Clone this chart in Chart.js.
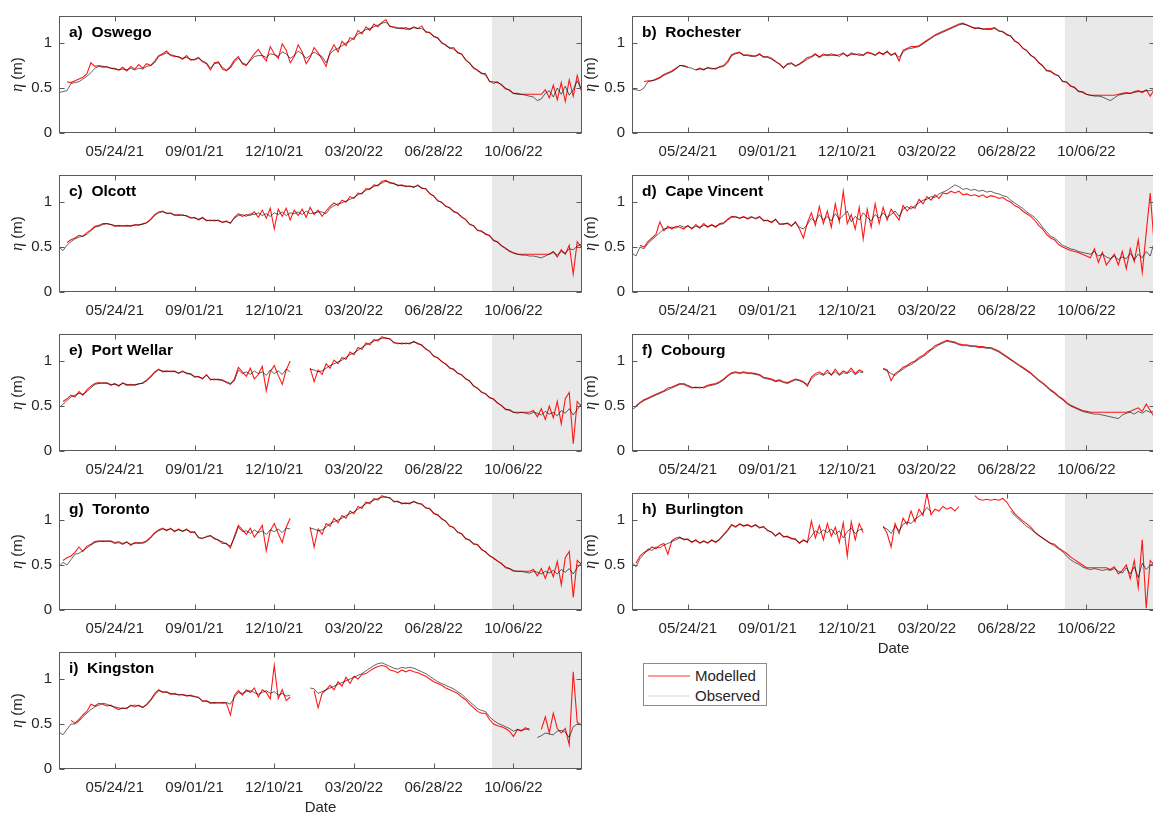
<!DOCTYPE html>
<html>
<head>
<meta charset="utf-8">
<script src="https://cdn.jsdelivr.net/npm/chart.js@4.4.0/dist/chart.umd.min.js"></script>
<style>
  html, body { margin: 0; padding: 0; width: 1153px; height: 818px; overflow: hidden; background: #fff; }
  canvas.panel { position: absolute; }
  #legend { position: absolute; left: 643px; top: 663px; width: 124px; height: 43px;
            border: 1px solid #8c8c8c; background: #fff; box-sizing: border-box;
            font-family: 'Liberation Sans', Arial, sans-serif; font-size: 15px; color: #262626; }
  #legend .row { position: absolute; left: 0; height: 18px; line-height: 18px; }
  #legend .swatch { position: absolute; left: 4px; top: 8px; width: 42px; height: 0; border-top: 2px solid; }
  #legend .txt { position: absolute; left: 51px; top: 0; white-space: nowrap; }
</style>
</head>
<body>
<div id="legend">
  <div class="row" style="top:3px"><span class="swatch" style="border-color:rgba(255,0,0,0.4)"></span><span class="txt">Modelled</span></div>
  <div class="row" style="top:23px"><span class="swatch" style="border-color:rgba(0,0,0,0.08)"></span><span class="txt">Observed</span></div>
</div>
<script>
// Water level (m) every 5 days from the start date, one pair of series per gauge.
const startDate = '2021-03-15';
const sampleStep = 5;
const axisEnd = '2022-12-31';
const forecastStart = '2022-09-09';
const tickLabels = ['05/24/21', '09/01/21', '12/10/21', '03/20/22', '06/28/22', '10/06/22'];
const yTicks = [0, 0.5, 1];
const stationTitles = ['a)  Oswego', 'b)  Rochester', 'c)  Olcott', 'd)  Cape Vincent', 'e)  Port Wellar',
                       'f)  Cobourg', 'g)  Toronto', 'h)  Burlington', 'i)  Kingston'];

const oswegoObserved = [
  0.45,0.46,0.47,0.55,0.56,0.57,0.60,0.63,0.67,0.72,
  0.74,0.73,0.74,0.72,0.72,0.70,0.71,0.70,0.72,0.70,
  0.72,0.71,0.74,0.75,0.78,0.85,0.87,0.89,0.87,0.86,
  0.84,0.83,0.84,0.82,0.81,0.83,0.80,0.78,0.72,0.77,
  0.78,0.73,0.70,0.72,0.79,0.83,0.78,0.76,0.80,0.85,
  0.86,0.86,0.84,0.88,0.87,0.85,0.90,0.88,0.83,0.86,
  0.91,0.88,0.83,0.86,0.90,0.87,0.85,0.78,0.88,0.92,
  0.94,0.97,1.00,1.02,1.06,1.10,1.12,1.15,1.16,1.18,
  1.20,1.22,1.23,1.19,1.17,1.16,1.17,1.15,1.16,1.17,
  1.16,1.16,1.13,1.11,1.08,1.05,1.01,0.97,0.95,0.93,
  0.90,0.87,0.82,0.77,0.73,0.69,0.67,0.64,0.58,0.55,
  0.57,0.53,0.50,0.47,0.44,0.43,0.43,0.42,0.41,0.40,
  0.36,0.38,0.44,0.47,0.40,0.50,0.43,0.52,0.42,0.48,
  0.58,0.49];
const oswegoModelled = [
  null,null,0.57,0.56,0.58,0.60,0.62,0.66,0.78,0.74,
  0.75,0.74,0.73,0.72,0.71,0.70,0.73,0.69,0.74,0.71,
  0.76,0.72,0.77,0.75,0.80,0.86,0.88,0.91,0.86,0.85,
  0.85,0.82,0.86,0.81,0.82,0.84,0.79,0.77,0.70,0.78,
  0.79,0.71,0.69,0.74,0.81,0.85,0.77,0.75,0.82,0.88,
  0.93,0.86,0.80,0.96,0.88,0.83,0.99,0.92,0.78,0.85,
  0.98,0.90,0.77,0.84,0.95,0.89,0.82,0.74,0.90,0.98,
  0.90,1.02,0.97,1.06,1.04,1.14,1.10,1.18,1.14,1.21,
  1.18,1.23,1.26,1.18,1.18,1.17,1.16,1.17,1.15,1.18,
  1.16,1.19,1.12,1.12,1.07,1.06,1.00,0.98,0.94,0.95,
  0.89,0.88,0.81,0.78,0.72,0.70,0.66,0.66,0.57,0.57,
  0.56,0.54,0.49,0.48,0.44,0.44,0.43,0.43,0.43,0.43,
  0.43,0.43,0.48,0.39,0.53,0.37,0.56,0.35,0.59,0.41,
  0.64,0.47];

const rochesterObserved = [
  0.49,0.48,0.47,0.50,0.57,0.58,0.59,0.61,0.64,0.66,
  0.68,0.71,0.75,0.74,0.73,0.72,0.70,0.71,0.71,0.72,
  0.71,0.72,0.73,0.74,0.78,0.86,0.88,0.89,0.87,0.86,
  0.85,0.86,0.87,0.85,0.84,0.82,0.80,0.76,0.73,0.76,
  0.77,0.75,0.76,0.79,0.82,0.84,0.87,0.85,0.86,0.87,
  0.86,0.87,0.85,0.88,0.86,0.87,0.88,0.86,0.87,0.89,
  0.88,0.87,0.89,0.88,0.90,0.87,0.88,0.84,0.90,0.93,
  0.94,0.95,0.96,0.99,1.02,1.05,1.08,1.10,1.12,1.14,
  1.16,1.18,1.20,1.21,1.20,1.18,1.17,1.16,1.16,1.15,
  1.15,1.16,1.14,1.12,1.10,1.07,1.03,0.99,0.95,0.91,
  0.87,0.83,0.79,0.74,0.70,0.68,0.66,0.63,0.58,0.56,
  0.53,0.50,0.47,0.45,0.43,0.42,0.41,0.41,0.40,0.38,
  0.36,0.39,0.42,0.43,0.44,0.44,0.45,0.46,0.46,0.47,
  0.47,0.48];
const rochesterModelled = [
  null,null,null,0.57,0.58,0.58,0.60,0.62,0.65,0.67,
  0.69,0.72,0.75,0.75,0.73,null,0.70,0.72,0.70,0.73,
  0.72,0.71,0.74,0.75,0.80,0.87,0.89,0.90,0.86,0.87,
  0.86,0.85,0.88,0.84,0.85,0.83,0.79,0.77,0.72,0.77,
  0.78,0.74,0.77,0.80,0.84,0.85,0.88,0.84,0.88,0.86,
  0.88,0.86,0.87,0.89,0.85,0.89,0.87,0.88,0.86,0.90,
  0.89,0.86,0.90,0.87,0.91,0.86,0.89,0.80,0.92,0.94,
  0.96,0.96,0.97,1.00,1.03,1.06,1.09,1.11,1.13,1.15,
  1.17,1.19,1.21,1.22,1.20,1.18,1.16,1.17,1.15,1.16,
  1.16,1.17,1.13,1.13,1.09,1.08,1.02,1.00,0.94,0.92,
  0.86,0.84,0.78,0.75,0.69,0.69,0.65,0.64,0.57,0.57,
  0.52,0.51,0.46,0.46,0.43,0.42,0.42,0.42,0.42,0.42,
  0.42,0.42,0.43,0.44,0.45,0.44,0.46,0.47,0.45,0.48,
  0.41,0.48];

const olcottObserved = [
  0.50,0.46,0.52,0.56,0.59,0.61,0.62,0.64,0.68,0.72,
  0.73,0.75,0.76,0.75,0.74,0.73,0.74,0.73,0.74,0.74,
  0.75,0.75,0.77,0.80,0.85,0.88,0.89,0.88,0.87,0.86,
  0.85,0.86,0.84,0.83,0.82,0.81,0.82,0.80,0.79,0.80,
  0.79,0.78,0.78,0.77,0.82,0.85,0.86,0.84,0.87,0.86,
  0.88,0.85,0.87,0.84,0.88,0.86,0.89,0.85,0.88,0.87,
  0.89,0.86,0.90,0.87,0.88,0.89,0.89,0.87,0.93,0.96,
  0.98,0.99,1.01,1.03,1.05,1.08,1.10,1.13,1.15,1.17,
  1.19,1.21,1.23,1.22,1.20,1.19,1.18,1.18,1.17,1.17,
  1.18,1.16,1.14,1.10,1.06,1.02,0.99,0.96,0.93,0.90,
  0.87,0.84,0.80,0.76,0.73,0.69,0.67,0.65,0.62,0.58,
  0.55,0.52,0.48,0.46,0.43,0.42,0.41,0.41,0.40,0.40,
  0.39,0.38,0.40,0.42,0.44,0.41,0.45,0.43,0.48,0.47,
  0.51,0.53];
const olcottModelled = [
  null,null,0.55,0.58,0.60,0.63,0.62,0.66,0.69,0.73,
  0.74,0.76,0.76,0.75,0.73,0.74,0.73,0.74,0.73,0.75,
  0.74,0.76,0.77,0.81,0.86,0.89,0.90,0.87,0.88,0.85,
  0.86,0.85,0.85,0.82,0.83,0.80,0.83,0.79,0.80,0.79,
  0.80,0.77,0.79,0.76,0.83,0.87,0.84,0.86,0.85,0.89,
  0.83,0.91,0.82,0.93,0.70,0.92,0.84,0.93,0.80,0.91,
  0.85,0.92,0.83,0.94,0.86,0.91,0.84,0.90,0.95,0.99,
  0.96,1.02,1.00,1.06,1.04,1.10,1.09,1.15,1.14,1.19,
  1.18,1.23,1.24,1.21,1.21,1.18,1.19,1.17,1.18,1.16,
  1.19,1.15,1.15,1.09,1.07,1.01,1.00,0.95,0.94,0.89,
  0.88,0.83,0.81,0.75,0.74,0.68,0.68,0.64,0.63,0.57,
  0.56,0.51,0.49,0.45,0.44,0.42,0.42,0.42,0.42,0.42,
  0.42,0.42,0.42,0.42,0.45,0.39,0.47,0.42,0.52,0.20,
  0.56,0.50];

const capeVincentObserved = [
  0.43,0.40,0.50,0.48,0.54,0.58,0.62,0.66,0.70,0.71,
  0.72,0.71,0.74,0.72,0.73,0.71,0.73,0.72,0.74,0.73,
  0.74,0.73,0.75,0.76,0.80,0.83,0.84,0.82,0.83,0.82,
  0.84,0.81,0.83,0.80,0.79,0.78,0.80,0.76,0.75,0.77,
  0.74,0.77,0.72,0.70,0.75,0.82,0.78,0.86,0.80,0.84,
  0.79,0.87,0.81,0.85,0.90,0.78,0.84,0.80,0.88,0.83,
  0.79,0.86,0.82,0.88,0.83,0.86,0.90,0.84,0.92,0.95,
  0.92,0.96,0.99,1.02,1.03,1.06,1.05,1.09,1.11,1.13,
  1.16,1.19,1.17,1.14,1.15,1.13,1.14,1.12,1.13,1.11,
  1.12,1.10,1.09,1.07,1.06,1.02,0.99,0.96,0.93,0.89,
  0.86,0.83,0.78,0.72,0.67,0.62,0.60,0.56,0.52,0.50,
  0.48,0.47,0.45,0.44,0.43,0.42,0.45,0.40,0.42,0.39,
  0.37,0.40,0.36,0.39,0.37,0.43,0.36,0.42,0.38,0.45,
  0.40,0.55];
const capeVincentModelled = [
  null,null,0.52,0.50,0.56,0.60,0.64,0.78,0.68,0.73,
  0.70,0.73,0.72,0.70,0.74,0.70,0.75,0.71,0.76,0.72,
  0.75,0.72,0.76,0.77,0.81,0.84,0.83,0.82,0.84,0.81,
  0.83,0.82,0.84,0.79,0.80,0.77,0.81,0.75,0.76,0.76,
  0.73,0.78,0.70,0.60,0.77,0.88,0.74,0.95,0.76,0.90,
  0.72,0.98,0.78,1.12,0.76,0.86,0.70,0.94,0.59,0.92,
  0.72,0.98,0.76,0.94,0.80,0.92,0.86,0.80,0.96,0.90,
  0.95,0.93,1.03,0.98,1.06,1.02,1.08,1.04,1.10,1.09,
  1.12,1.10,1.12,1.08,1.09,1.07,1.08,1.06,1.08,1.05,
  1.07,1.06,1.04,1.05,1.02,1.00,0.96,0.94,0.90,0.87,
  0.84,0.80,0.74,0.70,0.64,0.60,0.58,0.53,0.50,0.48,
  0.46,0.45,0.44,0.42,0.40,0.38,0.48,0.33,0.44,0.30,
  0.36,0.42,0.30,0.45,0.26,0.48,0.34,0.58,0.22,0.66,
  1.10,0.52];

const portWellarObserved = [
  0.48,0.52,0.56,0.60,0.62,0.64,0.63,0.66,0.70,0.74,
  0.75,0.76,0.75,0.74,0.74,0.73,0.75,0.74,0.73,0.74,
  0.74,0.76,0.78,0.82,0.87,0.90,0.89,0.88,0.89,0.88,
  0.87,0.88,0.87,0.85,0.83,0.82,0.81,0.84,0.80,0.79,
  0.80,0.78,0.77,0.75,0.78,0.90,0.86,0.88,0.85,0.89,
  0.86,0.88,0.84,0.90,0.86,0.89,0.85,0.91,0.88,null,
  null,null,null,0.91,0.90,0.88,0.89,0.92,0.95,0.97,
  0.99,1.01,1.04,1.07,1.09,1.12,1.15,1.18,1.20,1.22,
  1.24,1.25,1.26,1.24,1.21,1.19,1.20,1.19,1.20,1.21,
  1.20,1.17,1.14,1.10,1.06,1.03,1.00,0.96,0.93,0.90,
  0.87,0.84,0.81,0.77,0.73,0.69,0.66,0.63,0.60,0.57,
  0.54,0.50,0.47,0.45,0.43,0.42,0.43,0.42,0.41,0.43,
  0.42,0.40,0.44,0.41,0.43,0.39,0.45,0.42,0.47,0.40,
  0.46,0.52];
const portWellarModelled = [
  null,0.55,0.58,0.62,0.60,0.66,0.62,0.68,0.72,0.75,
  0.76,0.75,0.76,0.73,0.75,0.72,0.76,0.73,0.74,0.73,
  0.75,0.75,0.79,0.83,0.88,0.91,0.88,0.89,0.88,0.89,
  0.86,0.89,0.86,0.86,0.82,0.83,0.80,0.85,0.79,0.80,
  0.79,0.79,0.76,0.74,0.80,0.93,0.88,0.83,0.92,0.80,
  0.85,0.94,0.67,0.88,0.95,0.84,0.74,0.90,1.00,null,
  null,null,null,0.92,0.77,0.90,0.85,0.97,0.92,1.01,
  0.97,1.04,1.02,1.10,1.07,1.15,1.13,1.20,1.18,1.24,
  1.22,1.27,1.25,1.25,1.20,1.20,1.19,1.20,1.19,1.22,
  1.19,1.18,1.13,1.11,1.05,1.04,0.99,0.97,0.92,0.91,
  0.86,0.85,0.80,0.78,0.72,0.70,0.65,0.64,0.59,0.58,
  0.53,0.51,0.46,0.46,0.43,0.43,0.43,0.43,0.43,0.45,
  0.38,0.47,0.35,0.50,0.37,0.55,0.30,0.58,0.65,0.08,
  0.55,0.50];

const cobourgObserved = [
  0.46,0.49,0.53,0.56,0.58,0.60,0.62,0.64,0.66,0.68,
  0.70,0.72,0.74,0.75,0.73,0.71,0.70,0.71,0.70,0.72,
  0.73,0.74,0.76,0.79,0.83,0.86,0.87,0.86,0.87,0.86,
  0.86,0.85,0.84,0.81,0.80,0.79,0.77,0.78,0.76,0.75,
  0.77,0.79,0.78,0.76,0.74,0.80,0.84,0.86,0.84,0.87,
  0.85,0.88,0.84,0.87,0.86,0.89,0.85,0.88,0.87,null,
  null,null,null,0.91,0.89,0.86,0.84,0.88,0.91,0.94,
  0.96,0.99,1.02,1.05,1.08,1.12,1.15,1.18,1.20,1.22,
  1.21,1.20,1.18,1.17,1.17,1.16,1.16,1.15,1.15,1.14,
  1.14,1.12,1.10,1.07,1.04,1.01,0.98,0.95,0.92,0.89,
  0.86,0.82,0.78,0.75,0.71,0.67,0.64,0.60,0.57,0.53,
  0.50,0.48,0.46,0.44,0.43,0.42,0.41,0.41,0.40,0.39,
  0.38,0.37,0.36,0.40,0.42,0.43,0.41,0.44,0.42,0.45,
  0.43,0.44];
const cobourgModelled = [
  null,0.50,0.54,0.57,0.59,0.61,0.63,0.65,0.67,0.70,
  0.71,0.73,0.75,0.74,0.72,0.70,0.71,0.70,0.71,0.73,
  0.74,0.75,0.77,0.80,0.84,0.87,0.88,0.87,0.88,0.87,
  0.87,0.86,0.85,0.82,0.81,0.80,0.78,0.79,0.77,0.76,
  0.78,0.80,0.79,0.77,0.72,0.82,0.86,0.88,0.85,0.90,
  0.84,0.91,0.85,0.89,0.87,0.92,0.86,0.90,0.88,null,
  null,null,null,0.92,0.90,0.78,0.86,0.89,0.93,0.95,
  0.98,1.00,1.04,1.06,1.10,1.13,1.17,1.19,1.21,1.23,
  1.22,1.21,1.19,1.18,1.18,1.17,1.17,1.16,1.16,1.15,
  1.15,1.13,1.11,1.08,1.05,1.02,0.99,0.96,0.93,0.90,
  0.87,0.83,0.79,0.76,0.72,0.68,0.65,0.61,0.58,0.54,
  0.51,0.49,0.47,0.45,0.44,0.43,0.43,0.43,0.43,0.43,
  0.43,0.43,0.43,0.43,0.43,0.44,0.46,0.48,0.44,0.52,
  0.45,0.38];

const torontoObserved = [
  0.48,0.53,0.50,0.56,0.62,0.63,0.66,0.69,0.72,0.75,
  0.76,0.77,0.76,0.77,0.75,0.76,0.74,0.75,0.73,0.74,
  0.75,0.74,0.76,0.80,0.85,0.88,0.90,0.89,0.90,0.88,
  0.89,0.88,0.89,0.87,0.86,0.81,0.79,0.82,0.82,0.80,
  0.77,0.76,0.73,0.71,0.80,0.92,0.87,0.88,0.85,0.89,
  0.86,0.88,0.84,0.89,0.87,0.90,0.86,0.91,0.90,null,
  null,null,null,0.91,0.90,0.88,0.89,0.92,0.96,0.98,
  1.00,1.02,1.05,1.07,1.09,1.12,1.15,1.18,1.20,1.22,
  1.24,1.25,1.26,1.24,1.21,1.20,1.19,1.18,1.19,1.20,
  1.19,1.17,1.14,1.12,1.08,1.05,1.02,0.98,0.94,0.91,
  0.87,0.84,0.80,0.77,0.74,0.72,0.68,0.64,0.61,0.57,
  0.55,0.51,0.48,0.46,0.44,0.43,0.43,0.42,0.41,0.43,
  0.42,0.40,0.43,0.41,0.44,0.40,0.45,0.42,0.46,0.40,
  0.47,0.52];
const torontoModelled = [
  null,0.55,0.58,0.60,0.64,0.70,0.65,0.71,0.73,0.76,
  0.77,0.76,0.77,0.76,0.74,0.75,0.73,0.76,0.72,0.75,
  0.74,0.75,0.77,0.81,0.86,0.89,0.91,0.88,0.91,0.87,
  0.90,0.87,0.90,0.86,0.87,0.80,0.80,0.81,0.83,0.79,
  0.78,0.74,0.74,0.69,0.82,0.94,0.89,0.84,0.91,0.81,
  0.87,0.94,0.66,0.88,0.96,0.85,0.75,0.92,1.02,null,
  null,null,null,0.92,0.70,0.90,0.84,0.96,0.93,1.02,
  0.97,1.05,1.02,1.10,1.07,1.15,1.13,1.20,1.18,1.24,
  1.22,1.27,1.25,1.25,1.20,1.21,1.18,1.19,1.18,1.21,
  1.18,1.18,1.13,1.13,1.07,1.06,1.01,0.99,0.93,0.92,
  0.86,0.85,0.79,0.78,0.73,0.73,0.67,0.65,0.60,0.58,
  0.54,0.52,0.47,0.46,0.43,0.43,0.43,0.43,0.43,0.45,
  0.38,0.46,0.35,0.48,0.37,0.54,0.28,0.58,0.65,0.14,
  0.55,0.51];

const burlingtonObserved = [
  0.53,0.48,0.57,0.62,0.68,0.66,0.70,0.69,0.72,0.74,
  0.76,0.78,0.80,0.79,0.78,0.76,0.77,0.75,0.76,0.75,
  0.77,0.76,0.78,0.83,0.88,0.94,0.93,0.95,0.94,0.94,
  0.93,0.94,0.92,0.92,0.89,0.86,0.83,0.85,0.82,0.81,
  0.80,0.78,0.75,0.77,0.76,0.82,0.88,0.85,0.89,0.86,
  0.90,0.84,0.88,0.80,0.87,0.91,0.85,0.89,0.90,null,
  null,null,null,0.92,0.90,0.85,0.93,0.88,0.95,0.98,
  0.96,1.01,1.04,1.08,1.14,1.09,null,null,null,null,
  null,null,null,null,null,null,null,null,null,null,
  null,null,null,null,null,1.10,1.05,1.01,0.97,0.93,
  0.90,0.86,0.83,0.80,0.77,0.74,0.71,0.68,0.65,0.60,
  0.56,0.53,0.51,0.48,0.46,0.45,0.46,0.45,0.44,0.45,
  0.44,0.46,0.43,0.41,0.47,0.40,0.48,0.36,0.52,0.45,
  0.50,0.52];
const burlingtonModelled = [
  null,0.52,0.60,0.64,0.66,0.70,0.68,0.72,0.74,0.62,
  0.77,0.80,0.81,0.78,0.79,0.75,0.78,0.74,0.77,0.74,
  0.78,0.75,0.79,0.84,0.89,0.95,0.92,0.96,0.93,0.95,
  0.92,0.95,0.91,0.93,0.88,0.87,0.82,0.86,0.81,0.82,
  0.79,0.79,0.74,0.78,0.75,0.99,0.80,0.94,0.78,0.96,
  0.82,0.92,0.75,0.97,0.60,0.98,0.78,0.96,0.86,null,
  null,null,null,0.93,0.85,0.70,0.96,0.85,1.02,0.95,
  1.10,0.98,1.12,1.05,1.30,1.06,1.12,1.10,1.15,1.12,
  1.14,1.10,1.15,null,null,null,1.27,1.23,1.22,1.23,
  1.22,1.23,1.22,1.24,1.20,1.13,1.07,1.03,0.99,0.96,
  0.92,0.87,0.83,0.80,0.77,0.74,0.73,0.69,0.66,0.63,
  0.59,0.56,0.53,0.50,0.47,0.47,0.47,0.47,0.47,0.47,
  0.45,0.48,0.40,0.44,0.50,0.35,0.55,0.25,0.78,0.02,
  0.55,0.50];

const kingstonObserved = [
  0.41,0.38,0.44,0.50,0.50,0.53,0.58,0.62,0.66,0.69,
  0.71,0.73,0.72,0.70,0.69,0.68,0.67,0.68,0.70,0.71,
  0.70,0.69,0.71,0.76,0.82,0.87,0.86,0.85,0.84,0.83,
  0.83,0.82,0.82,0.81,0.81,0.79,0.76,0.75,0.74,0.73,
  0.74,0.73,0.74,0.72,0.80,0.85,0.84,0.86,0.87,0.85,
  0.83,0.85,0.87,0.84,0.86,0.82,0.84,0.81,0.82,null,
  null,null,null,0.90,0.89,0.84,0.86,0.88,0.90,0.92,
  0.94,0.96,0.98,1.00,1.02,1.04,1.06,1.09,1.12,1.15,
  1.17,1.18,1.16,1.14,1.12,1.11,1.13,1.12,1.13,1.12,
  1.10,1.08,1.06,1.03,1.00,0.97,0.95,0.93,0.91,0.89,
  0.86,0.83,0.79,0.75,0.71,0.67,0.65,0.64,0.58,0.54,
  0.51,0.49,0.47,0.45,0.42,0.44,0.43,0.44,0.45,null,
  0.35,0.37,0.40,0.39,0.38,0.42,0.43,0.41,0.35,0.47,
  0.50,0.49];
const kingstonModelled = [
  null,null,null,0.54,0.51,0.55,0.60,0.64,0.72,0.70,
  0.73,0.72,0.70,0.71,0.68,0.66,0.68,0.67,0.71,0.69,
  0.71,0.68,0.72,0.77,0.84,0.88,0.85,0.86,0.83,0.84,
  0.82,0.83,0.81,0.82,0.80,0.80,0.75,0.76,0.73,0.74,
  0.73,0.74,0.73,0.60,0.82,0.87,0.82,0.88,0.85,0.90,
  0.80,0.88,0.85,0.78,1.15,0.78,0.88,0.76,0.80,null,
  null,null,null,null,0.87,0.68,0.84,0.88,0.93,0.88,
  0.97,0.92,1.02,0.95,1.03,1.00,1.05,1.06,1.09,1.12,
  1.14,1.15,1.14,1.10,1.09,1.07,1.10,1.08,1.10,1.08,
  1.07,1.05,1.03,1.00,0.97,0.95,0.93,0.90,0.88,0.86,
  0.84,0.80,0.77,0.72,0.68,0.64,0.62,0.62,0.55,0.50,
  0.48,0.47,0.45,0.42,0.36,0.44,0.42,0.46,0.43,null,
  null,0.44,0.58,0.40,0.62,0.45,0.40,0.45,0.27,1.08,
  0.52,0.49];

const observedSeries = [oswegoObserved, rochesterObserved, olcottObserved, capeVincentObserved,
  portWellarObserved, cobourgObserved, torontoObserved, burlingtonObserved, kingstonObserved];
const modelledSeries = [oswegoModelled, rochesterModelled, olcottModelled, capeVincentModelled,
  portWellarModelled, cobourgModelled, torontoModelled, burlingtonModelled, kingstonModelled];

// ---- helpers ----
function toDay(s) {
  let y, m, d;
  if (s.includes('/')) { const p = s.split('/'); m = +p[0]; d = +p[1]; y = 2000 + (+p[2]); }
  else { const p = s.split('-'); y = +p[0]; m = +p[1]; d = +p[2]; }
  const [sy, sm, sd] = startDate.split('-').map(Number);
  return Math.round((Date.UTC(y, m - 1, d) - Date.UTC(sy, sm - 1, sd)) / 86400000);
}
const tickDays = tickLabels.map(toDay);
const lastDay = toDay(axisEnd);
const shadeDay = toDay(forecastStart);
const toPoints = arr => arr.map((v, i) => ({ x: i * sampleStep, y: v }));

// ---- layout ----
const FONT = "'Liberation Sans', Arial, sans-serif";
const INK = '#262626';
const colLeft = [0, 573];          // canvas left edge per column
const rowTop = [9, 168, 327, 486, 645]; // plot-box top per row
const PLOT_H = 124;
const PAD_TOP = 9;
const CANVAS_W = 590;

const framePlugin = {
  id: 'frame',
  beforeDatasetsDraw(chart) {
    const { ctx, chartArea: a, scales: { x } } = chart;
    const x0 = Math.max(a.left, x.getPixelForValue(shadeDay));
    ctx.save();
    ctx.fillStyle = '#e9e9e9';
    ctx.fillRect(x0, a.top, a.right - x0, a.bottom - a.top);
    ctx.restore();
  },
  afterDraw(chart, args, opts) {
    const { ctx, chartArea: a, scales: { x, y } } = chart;
    ctx.save();
    ctx.strokeStyle = '#5a5a5a';
    ctx.lineWidth = 1;
    const L = Math.round(a.left) + 0.5, R = Math.round(a.right) - 0.5;
    const T = Math.round(a.top) + 0.5, B = Math.round(a.bottom) - 0.5;
    ctx.strokeRect(L, T, R - L, B - T);
    ctx.beginPath();
    tickDays.forEach(d => {
      const px = Math.round(x.getPixelForValue(d)) + 0.5;
      ctx.moveTo(px, B); ctx.lineTo(px, B - 5);
      ctx.moveTo(px, T); ctx.lineTo(px, T + 5);
    });
    yTicks.forEach(v => {
      const py = Math.round(y.getPixelForValue(v)) + 0.5;
      ctx.moveTo(L, py); ctx.lineTo(L + 5, py);
      ctx.moveTo(R, py); ctx.lineTo(R - 5, py);
    });
    ctx.stroke();

    // station label inside the box
    ctx.fillStyle = '#000';
    ctx.font = 'bold 15.5px ' + FONT;
    ctx.textBaseline = 'alphabetic';
    ctx.textAlign = 'left';
    ctx.fillText(opts.title, a.left + 10, a.top + 21);

    // y-axis label: italic eta followed by the unit
    const cx = a.left - 41, cy = (a.top + a.bottom) / 2;
    ctx.translate(cx, cy);
    ctx.rotate(-Math.PI / 2);
    ctx.fillStyle = INK;
    ctx.textBaseline = 'middle';
    const etaFont = 'italic 16px "Liberation Serif", serif';
    const unitFont = '15px ' + FONT;
    ctx.font = etaFont; const w1 = ctx.measureText('η').width;
    ctx.font = unitFont; const w2 = ctx.measureText(' (m)').width;
    let sx = -(w1 + w2) / 2;
    ctx.font = etaFont; ctx.fillText('η', sx, 0);
    ctx.font = unitFont; ctx.fillText(' (m)', sx + w1, 0);
    ctx.restore();
  }
};

stationTitles.forEach((title, idx) => {
  const col = idx % 2, row = Math.floor(idx / 2);
  const showDate = (idx === 7 || idx === 8);
  const xAxisH = showDate ? 48 : 30;
  const canvasH = PAD_TOP + PLOT_H + xAxisH;
  const cv = document.createElement('canvas');
  cv.className = 'panel';
  cv.width = CANVAS_W; cv.height = canvasH;
  cv.style.left = colLeft[col] + 'px';
  cv.style.top = (rowTop[row] - PAD_TOP) + 'px';
  cv.style.width = CANVAS_W + 'px';
  cv.style.height = canvasH + 'px';
  document.body.appendChild(cv);

  new Chart(cv, {
    type: 'line',
    data: {
      datasets: [
        { label: 'Observed', data: toPoints(observedSeries[idx]), borderColor: 'rgba(0,0,0,0.68)',
          borderWidth: 0.9, pointRadius: 0, tension: 0, spanGaps: false, order: 0 },
        { label: 'Modelled', data: toPoints(modelledSeries[idx]), borderColor: 'rgba(255,0,0,0.9)',
          borderWidth: 1.1, pointRadius: 0, tension: 0, spanGaps: false, order: 1 }
      ]
    },
    plugins: [framePlugin],
    options: {
      responsive: false,
      animation: false,
      devicePixelRatio: 1,
      events: [],
      layout: { padding: { top: PAD_TOP, right: 8, left: 0, bottom: 0 } },
      plugins: { legend: { display: false }, tooltip: { enabled: false }, frame: { title } },
      scales: {
        x: {
          type: 'linear', min: 0, max: lastDay,
          grid: { display: false, drawTicks: false }, border: { display: false },
          afterBuildTicks: s => { s.ticks = tickDays.map(v => ({ value: v })); },
          afterFit: s => { s.height = xAxisH; },
          ticks: { autoSkip: false, maxRotation: 0, padding: 10, color: INK,
                   font: { family: FONT, size: 15 },
                   callback: v => tickLabels[tickDays.indexOf(v)] },
          title: { display: showDate, text: 'Date', color: INK, padding: { top: 0, bottom: 0 },
                   font: { family: FONT, size: 15 } }
        },
        y: {
          min: 0, max: 1.3,
          grid: { display: false, drawTicks: false }, border: { display: false },
          afterBuildTicks: s => { s.ticks = yTicks.map(v => ({ value: v })); },
          afterFit: s => { s.width = 59; },
          ticks: { padding: 7, color: INK, font: { family: FONT, size: 15 },
                   callback: v => String(v) }
        }
      }
    }
  });
});
</script>
</body>
</html>
